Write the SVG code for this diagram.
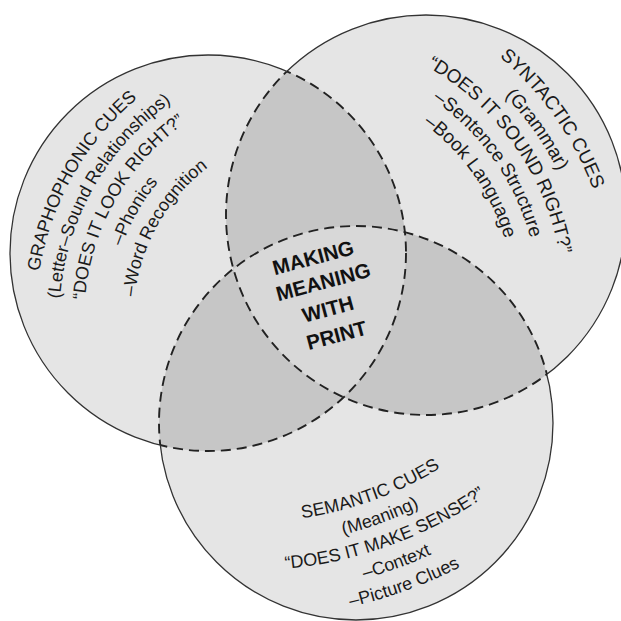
<svg xmlns="http://www.w3.org/2000/svg" width="621" height="621" viewBox="0 0 621 621">
<style>
.fill{fill:#e5e5e5}
.pair{fill:#c6c6c6}
.tri{fill:#d8d8d8}
.solid{fill:none;stroke:#333;stroke-width:1.3}
.dash{fill:none;stroke:#222;stroke-width:1.9;stroke-dasharray:10 6}
.t{font-family:"Liberation Sans",Arial,Helvetica,sans-serif;font-size:18px;fill:#1a1a1a;text-anchor:middle}
.r{font-size:19px}
.c{font-family:"Liberation Sans",Arial,Helvetica,sans-serif;font-size:20.5px;font-weight:bold;fill:#111;text-anchor:middle}
</style>
<defs>
<clipPath id="inA"><circle cx="208" cy="253" r="198"/></clipPath>
<clipPath id="inB"><circle cx="426" cy="215" r="200"/></clipPath>
<clipPath id="inC"><circle cx="356" cy="423" r="197"/></clipPath>
<clipPath id="inBC"><circle cx="426" cy="215" r="200"/><circle cx="356" cy="423" r="197"/></clipPath>
<clipPath id="inAC"><circle cx="208" cy="253" r="198"/><circle cx="356" cy="423" r="197"/></clipPath>
<clipPath id="inAB"><circle cx="208" cy="253" r="198"/><circle cx="426" cy="215" r="200"/></clipPath>
<clipPath id="outA"><path clip-rule="evenodd" d="M-50 -50H700V700H-50Z M10 253a198 198 0 1 0 396 0a198 198 0 1 0 -396 0Z"/></clipPath>
<clipPath id="outB"><path clip-rule="evenodd" d="M-50 -50H700V700H-50Z M226 215a200 200 0 1 0 400 0a200 200 0 1 0 -400 0Z"/></clipPath>
<clipPath id="outC"><path clip-rule="evenodd" d="M-50 -50H700V700H-50Z M159 423a197 197 0 1 0 394 0a197 197 0 1 0 -394 0Z"/></clipPath>
<!-- left block arcs: centre (320,316), mid angle 209.5deg, clockwise -->
<path id="a1" d="M567.18 455.85A284 284 0 1 1 72.82 176.15A284 284 0 1 1 567.18 455.85"/>
<path id="a2" d="M546.29 444.03A260 260 0 1 1 93.71 187.97A260 260 0 1 1 546.29 444.03"/>
<path id="a3" d="M524.53 431.72A235 235 0 1 1 115.47 200.28A235 235 0 1 1 524.53 431.72"/>
<path id="a4" d="M502.78 419.41A210 210 0 1 1 137.22 212.59A210 210 0 1 1 502.78 419.41"/>
<path id="a5" d="M481.89 407.59A186 186 0 1 1 158.11 224.41A186 186 0 1 1 481.89 407.59"/>
<!-- right block arcs: centre (294,301), mid angle -35.2deg, clockwise -->
<path id="b1" d="M33.33 484.88A319 319 0 1 1 554.67 117.12A319 319 0 1 1 33.33 484.88"/>
<path id="b2" d="M53.76 470.47A294 294 0 1 1 534.24 131.53A294 294 0 1 1 53.76 470.47"/>
<path id="b3" d="M73.78 456.35A269.5 269.5 0 1 1 514.22 145.65A269.5 269.5 0 1 1 73.78 456.35"/>
<path id="b4" d="M94.21 441.94A244.5 244.5 0 1 1 493.79 160.06A244.5 244.5 0 1 1 94.21 441.94"/>
<path id="b5" d="M114.64 427.53A219.5 219.5 0 1 1 473.36 174.47A219.5 219.5 0 1 1 114.64 427.53"/>
<!-- bottom block arcs: centre (250,160), mid angle 70deg, counter-clockwise -->
<path id="c1" d="M126.19 -180.17A362 362 0 1 0 373.81 500.17A362 362 0 1 0 126.19 -180.17"/>
<path id="c2" d="M117.98 -202.72A386 386 0 1 0 382.02 522.72A386 386 0 1 0 117.98 -202.72"/>
<path id="c3" d="M109.77 -225.27A410 410 0 1 0 390.23 545.27A410 410 0 1 0 109.77 -225.27"/>
<path id="c4" d="M101.56 -247.83A434 434 0 1 0 398.44 567.83A434 434 0 1 0 101.56 -247.83"/>
<path id="c5" d="M93.35 -270.38A458 458 0 1 0 406.65 590.38A458 458 0 1 0 93.35 -270.38"/>
</defs>
<rect width="621" height="621" fill="#fff"/>
<g id="graphophonic">
<circle class="fill" cx="208" cy="253" r="198"/>
<text class="t"><textPath href="#a1" startOffset="50%">GRAPHOPHONIC CUES</textPath></text>
<text class="t"><textPath href="#a2" startOffset="50%">(Letter–Sound Relationships)</textPath></text>
<text class="t"><textPath href="#a3" startOffset="50%">“DOES IT LOOK RIGHT?”</textPath></text>
<text class="t"><textPath href="#a4" startOffset="50%">–Phonics</textPath></text>
<text class="t"><textPath href="#a5" startOffset="50%">–Word Recognition</textPath></text>
</g>
<g id="syntactic">
<circle class="fill" cx="426" cy="215" r="200"/>
<text class="t r"><textPath href="#b1" startOffset="50%">SYNTACTIC CUES</textPath></text>
<text class="t r"><textPath href="#b2" startOffset="50%">(Grammar)</textPath></text>
<text class="t r"><textPath href="#b3" startOffset="50%">“DOES IT SOUND RIGHT?”</textPath></text>
<text class="t r"><textPath href="#b4" startOffset="50%">–Sentence Structure</textPath></text>
<text class="t r"><textPath href="#b5" startOffset="50%">–Book Language</textPath></text>
</g>
<g id="semantic">
<circle class="fill" cx="356" cy="423" r="197"/>
<text class="t"><textPath href="#c1" startOffset="50%">SEMANTIC CUES</textPath></text>
<text class="t"><textPath href="#c2" startOffset="50%">(Meaning)</textPath></text>
<text class="t"><textPath href="#c3" startOffset="50%">“DOES IT MAKE SENSE?”</textPath></text>
<text class="t"><textPath href="#c4" startOffset="50%">–Context</textPath></text>
<text class="t"><textPath href="#c5" startOffset="50%">–Picture Clues</textPath></text>
</g>
<g id="overlaps">
<circle class="pair" cx="426" cy="215" r="200" clip-path="url(#inA)"/>
<circle class="pair" cx="356" cy="423" r="197" clip-path="url(#inA)"/>
<circle class="pair" cx="356" cy="423" r="197" clip-path="url(#inB)"/>
<g clip-path="url(#inA)"><circle class="tri" cx="356" cy="423" r="197" clip-path="url(#inB)"/></g>
</g>
<g id="outlines">
<g clip-path="url(#outB)"><circle class="solid" cx="208" cy="253" r="198" clip-path="url(#outC)"/></g>
<g clip-path="url(#outA)"><circle class="solid" cx="426" cy="215" r="200" clip-path="url(#outC)"/></g>
<g clip-path="url(#outA)"><circle class="solid" cx="356" cy="423" r="197" clip-path="url(#outB)"/></g>
<circle class="dash" cx="208" cy="253" r="198" clip-path="url(#inBC)"/>
<circle class="dash" cx="426" cy="215" r="200" clip-path="url(#inAC)"/>
<circle class="dash" cx="356" cy="423" r="197" clip-path="url(#inAB)"/>
</g>
<g id="making-meaning" transform="translate(325 296) rotate(-15)">
<text class="c" x="-1.5" y="-33">MAKING</text>
<text class="c" x="2" y="-7">MEANING</text>
<text class="c" x="-0.5" y="20.5">WITH</text>
<text class="c" x="1" y="48">PRINT</text>
</g>
</svg>
